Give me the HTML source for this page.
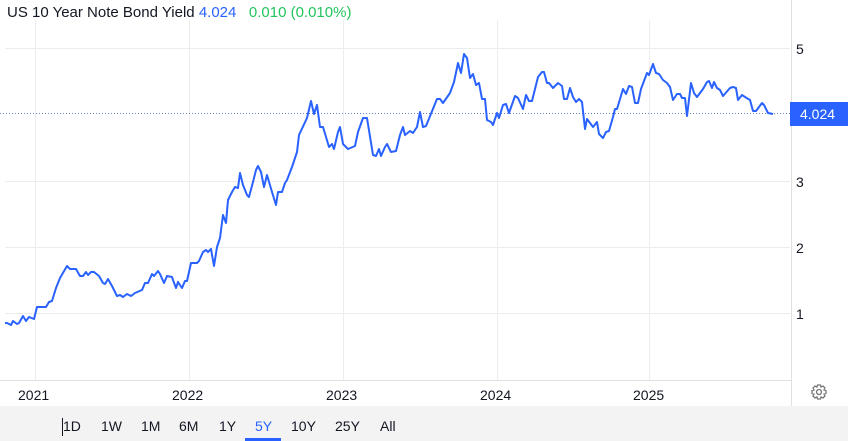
<!DOCTYPE html>
<html><head><style>
body{margin:0;width:848px;height:441px;background:#fff;font-family:"Liberation Sans",sans-serif;overflow:hidden;position:relative}
.t{position:absolute;left:7px;top:4px;font-size:15px;color:#131722;white-space:nowrap}
.bar{position:absolute;left:0;top:406px;width:848px;height:35px;background:#f3f3f3}
.b{position:absolute;top:418px;font-size:14px;color:#131722}
</style></head><body>
<svg width="848" height="441" style="position:absolute;left:0;top:0">
<g stroke="#ececec" stroke-width="1">
<line x1="5" y1="48.5" x2="790" y2="48.5"/><line x1="5" y1="181.5" x2="790" y2="181.5"/>
<line x1="5" y1="247.5" x2="790" y2="247.5"/><line x1="5" y1="313.5" x2="790" y2="313.5"/>
<line x1="35.5" y1="20" x2="35.5" y2="380"/><line x1="189.5" y1="20" x2="189.5" y2="380"/>
<line x1="343.5" y1="20" x2="343.5" y2="380"/><line x1="497.5" y1="20" x2="497.5" y2="380"/>
<line x1="649.5" y1="20" x2="649.5" y2="380"/>
</g>
<line x1="791.5" y1="0" x2="791.5" y2="406" stroke="#e0e0e0"/>
<line x1="0" y1="380.5" x2="791" y2="380.5" stroke="#e0e0e0"/>
<line x1="0" y1="113.5" x2="790" y2="113.5" stroke="#6a7fc8" stroke-dasharray="1,2"/>
<polyline fill="none" stroke="#2962ff" stroke-width="2" stroke-linejoin="round" points="5,323 7,323 11,325 13,321 17,324 19,323 23,316 26,321 29,317 34,319 37,307 41,307 46,307 49,302 52,301 56,288 60,278 67,266 70,269 76,269 80,276 83,276 86,272 88,275 91,272 94,272 99,276 103,283 105,284 108,279 112,286 117,296 120,295 123,297 127,294 131,296 135,293 142,290 145,283 148,283 152,274 154,276 158,271 160,274 164,283 167,276 172,277 173,280 176,288 178,282 182,288 185,281 187,281 191,263 197,263 199,261 203,252 206,250 208,252 211,249 214,266 217,247 220,238 223,215 226,223 228,200 232,192 235,187 238,188 240,173 243,185 247,195 249,197 253,182 256,170 258,166 261,172 264,187 267,175 272,192 276,205 278,192 282,192 285,183 287,180 292,167 297,152 299,135 307,118 311,101 314,114 317,105 320,127 323,127 329,147 332,144 334,149 338,132 340,127 343,144 348,149 355,146 358,132 363,118 367,118 373,155 376,156 379,149 381,156 385,147 387,144 391,152 396,151 400,135 403,127 405,135 410,131 413,133 417,127 420,112 423,127 426,126 437,99 440,99 443,103 450,93 454,82 458,63 461,73 464,54 467,58 470,78 473,74 476,85 479,83 482,99 485,99 487,120 491,122 493,125 497,113 499,118 503,105 506,104 509,113 515,96 518,98 523,109 526,95 529,101 532,101 538,77 542,72 544,72 547,83 549,83 553,88 558,83 562,86 564,99 567,99 570,88 573,97 576,102 579,99 582,102 585,129 587,119 593,127 597,122 599,134 603,138 606,132 609,131 613,117 615,109 617,109 623,89 626,94 629,86 632,87 635,103 638,103 641,89 647,73 649,75 653,64 656,73 659,74 663,80 667,83 670,87 673,100 677,94 680,94 682,98 685,98 687,116 691,83 694,93 697,97 703,89 707,82 709,81 712,88 714,82 717,88 720,90 723,96 730,88 733,87 736,88 738,100 742,95 745,97 750,100 753,111 756,111 762,103 764,105 768,113 773,114"/>
<g font-family="Liberation Sans" font-size="14" fill="#131722">
<text x="796" y="54">5</text><text x="796" y="187">3</text><text x="796" y="253">2</text><text x="796" y="319">1</text>
<text x="18" y="400">2021</text><text x="172" y="400">2022</text><text x="326" y="400">2023</text><text x="480" y="400">2024</text><text x="633" y="400">2025</text>
</g>
<rect x="790" y="102" width="58" height="24" fill="#2962ff"/>
<text x="800" y="119" font-family="Liberation Sans" font-size="14" fill="#fff">4.024</text>
<g transform="translate(819,392)" fill="none" stroke="#777" stroke-width="1.3">
<circle r="2.5"/><path d="M-1.5,-7 h3 l0.5,2 l2,-1 l2,2 l-1,2 l2,0.5 v3 l-2,0.5 l1,2 l-2,2 l-2,-1 l-0.5,2 h-3 l-0.5,-2 l-2,1 l-2,-2 l1,-2 l-2,-0.5 v-3 l2,-0.5 l-1,-2 l2,-2 l2,1 z"/>
</g>
</svg>
<div class="t">US 10 Year Note Bond Yield <span style="color:#2962ff">4.024</span>&nbsp;&nbsp;&nbsp;<span style="color:#22c55e">0.010 (0.010%)</span></div>
<div class="bar"></div>
<div style="position:absolute;left:62px;top:418px;width:1px;height:18px;background:#131722"></div>
<div class="b" style="left:63px">1D</div><div class="b" style="left:101px">1W</div><div class="b" style="left:141px">1M</div>
<div class="b" style="left:179px">6M</div><div class="b" style="left:219px">1Y</div><div class="b" style="left:255px;color:#2962ff">5Y</div>
<div class="b" style="left:291px">10Y</div><div class="b" style="left:335px">25Y</div><div class="b" style="left:380px">All</div>
<div style="position:absolute;left:245px;top:438px;width:36px;height:3px;background:#2962ff"></div>
</body></html>
